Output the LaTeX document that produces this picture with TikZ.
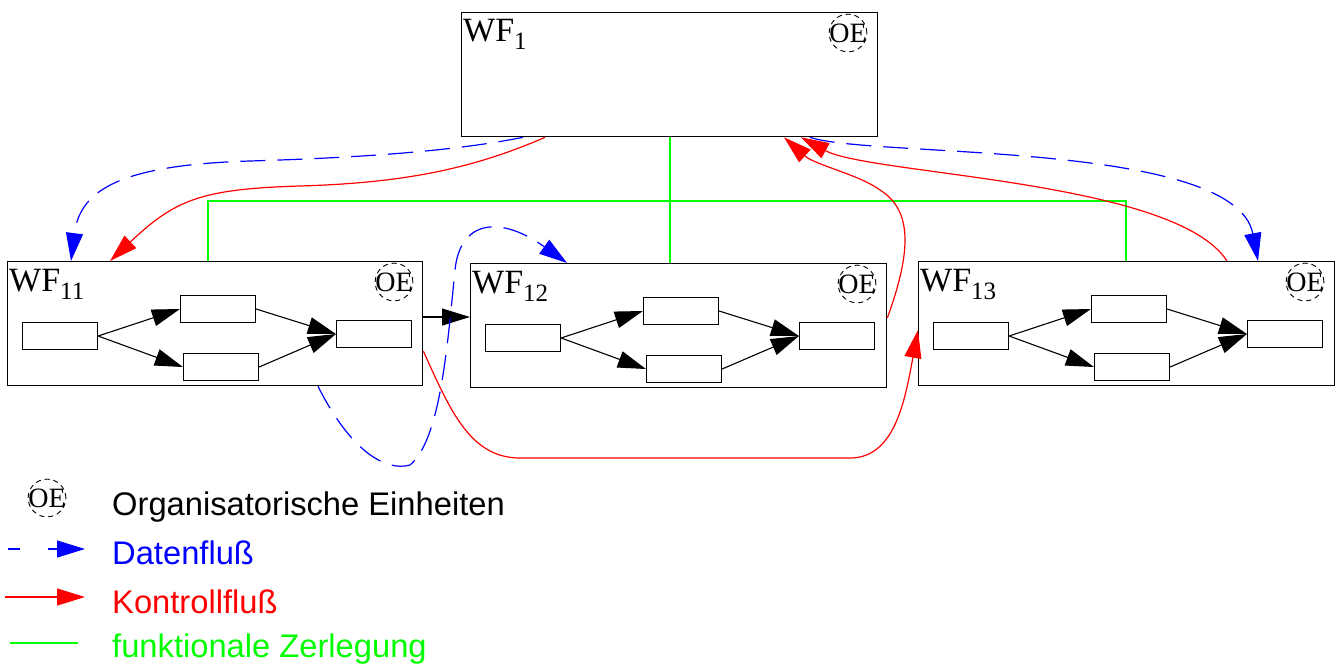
\documentclass[tikz,border=0pt]{standalone}
\usepackage{fontspec}
\setmainfont{Liberation Serif}
\newfontfamily\legendfont{Liberation Sans}
\usetikzlibrary{arrows.meta}
\usetikzlibrary{calc}

\newcommand{\wfname}[1]{WF\raisebox{-8pt}{\fontsize{25}{25}\selectfont #1}}

\tikzset{
  wfbox/.style={draw, line width=1.3pt, anchor=north west, minimum width=416pt, minimum height=124pt, inner sep=0},
  act/.style={draw, line width=1.2pt, minimum width=75pt, minimum height=27pt, inner sep=0},
  oe/.style={draw, circle, inner sep=-1.5pt, line width=0.9pt, dash pattern=on 5pt off 4pt, font=\fontsize{28}{28}\selectfont},
  wflabel/.style={anchor=base west, inner sep=0, font=\fontsize{34}{34}\selectfont},
  legtext/.style={anchor=base west, inner sep=0, font=\legendfont\fontsize{32.7}{33}\selectfont},
  bigtip/.style={-{Triangle[length=28pt,width=17pt]}},
  iflow/.style={bigtip, line width=1.1pt, black},
  dflow/.style={bigtip, line width=1.2pt, blue, dash pattern=on 25pt off 12pt},
  cflow/.style={bigtip, line width=1.2pt, red},
  zflow/.style={line width=1.8pt, green}
}

\begin{document}
\begin{tikzpicture}[x=1pt,y=-1pt]
  \useasboundingbox (0,0) rectangle (1337,665);

  % Workflows
  \node[wfbox] (wf1) at (461,12) {};
  \node[wfbox, minimum width=415pt] (wf11) at (7,261) {};
  \node[wfbox] (wf12) at (470,263) {};
  \node[wfbox] (wf13) at (918,261) {};

  % Names and OE
  \node[wflabel] at ($(wf1.north west)+(2,29)$) {\wfname{1}};
  \foreach \w/\n in {wf11/11,wf12/12,wf13/13} {
    \node[wflabel] at ($(\w.north west)+(2,30)$) {\wfname{\n}};
  }
  \foreach \w in {wf1,wf11,wf12,wf13} {
    \node[oe] (\w-oe) at ($(\w.north west)+(387,21)$) {OE};
  }

  % Activities
  \foreach \w in {wf11,wf12,wf13} {
    \node[act] (\w-a) at ($(\w.north west)+(53,75)$) {};
    \node[act] (\w-b) at ($(\w.north west)+(211,48)$) {};
    \node[act] (\w-c) at ($(\w.north west)+(214,106)$) {};
    \node[act] (\w-d) at ($(\w.north west)+(367,73)$) {};
    \draw[iflow] (\w-a.east) -- (\w-b.west);
    \draw[iflow] (\w-a.east) -- (\w-c.west);
    \draw[iflow] (\w-b.east) -- (\w-d.west);
    \draw[iflow] (\w-c.east) -- (\w-d.west);
  }

  % Functional decomposition
  \coordinate (zl) at (208,201);
  \coordinate (zm) at (670,201);
  \coordinate (zr) at (1126,201);
  \draw[zflow] (wf1.south -| zm) -- (wf12.north -| zm);
  \draw[zflow] (wf11.north -| zl) -- (zl) -- (zr) -- (wf13.north -| zr);

  % Control flow
  \draw[iflow] ($(wf11.north east)+(0,56)$) -- ($(wf12.north west)+(0,54)$);
  \draw[cflow] ($(wf1.south west)+(84,0)$) .. controls (470,170) and (400,183) .. (300,186)
    .. controls (200,189) and (175,200) .. ($(wf11.north west)+(103,0)$);
  \draw[cflow] ($(wf12.north east)+(0,55)$) .. controls (912,250) and (912,210) .. (880,190)
    .. controls (860,175) and (815,165) .. ($(wf1.south west)+(323,0)$);
  \draw[cflow] ($(wf13.north west)+(309,0)$) .. controls (1175,180) and (870,175) .. ($(wf1.south west)+(340,0)$);
  \draw[cflow] ($(wf11.north east)+(0,90)$) .. controls (450,410) and (470,458) .. (520,458) -- (850,458)
    .. controls (895,458) and (905,400) .. ($(wf13.north west)+(0,69)$);

  % Data flow
  \draw[dflow] ($(wf1.south west)+(62,0)$) .. controls (450,152) and (350,158) .. (250,161)
    .. controls (120,165) and (80,190) .. ($(wf11.north west)+(64,0)$);
  \draw[dflow] ($(wf1.south west)+(349,0)$) .. controls (870,158) and (1235,140) .. ($(wf13.north west)+(340,0)$);
  \draw[dflow] ($(wf11.south west)+(311,0)$) .. controls (350,450) and (385,472) .. (410,465)
    .. controls (440,440) and (447,350) .. (455,270) .. controls (460,220) and (500,215) .. ($(wf12.north west)+(97,0)$);

  % Legend
  \node[oe] (oeleg) at (47,498) {OE};
  \node[legtext] (leg1) at (112,515) {Organisatorische Einheiten};
  \node[legtext, text=blue] (leg2) at (112,564) {Datenfluß};
  \node[legtext, text=red] (leg3) at (112,613) {Kontrollfluß};
  \node[legtext, text=green] (leg4) at (112,657) {funktionale Zerlegung};
  \coordinate (d0) at (8,549);  \coordinate (d1) at (85,549);
  \coordinate (c0) at (5,597);  \coordinate (c1) at (85,597);
  \coordinate (z0) at (10,643); \coordinate (z1) at (78,643);
  \draw[dflow, dash pattern=on 12pt off 28pt on 40pt] (d0) -- (d1);
  \draw[cflow] (c0) -- (c1);
  \draw[zflow] (z0) -- (z1);
\end{tikzpicture}
\end{document}
